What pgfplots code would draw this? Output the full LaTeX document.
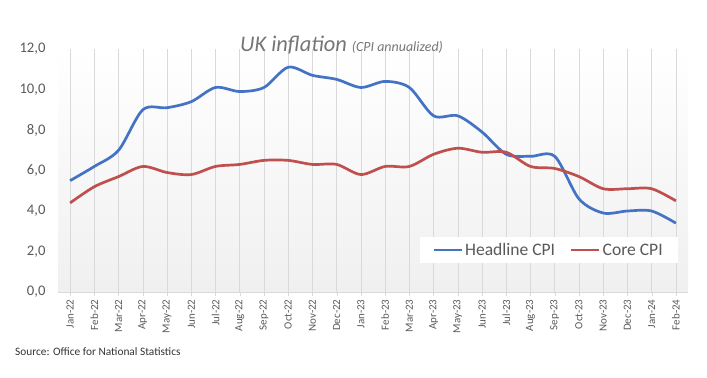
\documentclass[border=0pt]{standalone}
\usepackage{pgfplots}
\pgfplotsset{compat=1.18}
\usepackage{fontspec}
\setmainfont{Carlito}
\definecolor{hblue}{HTML}{4472C4}
\definecolor{cred}{HTML}{C0504D}
\definecolor{txt}{HTML}{595959}
\definecolor{ttl}{HTML}{767676}
\definecolor{grd}{HTML}{D9D9D9}
\begin{document}
\begin{tikzpicture}
\path[use as bounding box] (0,0) rectangle (707bp,-378bp);
\begin{axis}[
  at={(58bp,-292bp)}, anchor=south west,
  scale only axis, width=630bp, height=243bp,
  xmin=-0.5, xmax=25.5, ymin=0, ymax=12,
  axis background/.style={shade, top color=white, bottom color=black!6},
  xtick={0,...,25},
  xticklabels={Jan-22,Feb-22,Mar-22,Apr-22,May-22,Jun-22,Jul-22,Aug-22,Sep-22,Oct-22,Nov-22,Dec-22,Jan-23,Feb-23,Mar-23,Apr-23,May-23,Jun-23,Jul-23,Aug-23,Sep-23,Oct-23,Nov-23,Dec-23,Jan-24,Feb-24},
  xticklabel style={rotate=90, anchor=east, font=\fontsize{11}{12}\selectfont, text=txt},
  ytick={0,2,...,12},
  yticklabel style={font=\fontsize{14.7}{15}\selectfont, text=txt, xshift=-5bp},
  /pgf/number format/.cd, fixed, fixed zerofill, precision=1, use comma, assume math mode=true,
  /pgfplots/.cd,
  axis x line*=bottom, axis y line*=left,
  x axis line style={draw=grd, -},
  y axis line style={draw=none},
  ytick style={draw=none},
  xtick style={draw=grd},
  tick align=outside, major tick length=4bp,
  xmajorgrids, major grid style={draw=grd, line width=0.6pt},
  legend columns=2,
  legend style={at={(0.984,0.119)}, anchor=south east, draw=none, fill=white,
    font=\fontsize{17.6}{18}\selectfont, text=txt, inner xsep=13bp, inner ysep=4bp,
    /tikz/every even column/.append style={column sep=13bp}},
  legend image code/.code={\draw[#1, line width=2.6bp] (-4bp,0bp) -- (24bp,0bp);},
  clip=false,
]
\addplot[hblue, line width=2.7bp, smooth, tension=0.5] coordinates {
(0,5.5)(1,6.2)(2,7.0)(3,9.0)(4,9.1)(5,9.4)(6,10.1)(7,9.9)(8,10.1)(9,11.1)(10,10.7)(11,10.5)(12,10.1)(13,10.4)(14,10.1)(15,8.7)(16,8.7)(17,7.9)(18,6.8)(19,6.7)(20,6.7)(21,4.6)(22,3.9)(23,4.0)(24,4.0)(25,3.4)};
\addlegendentry{Headline CPI}
\addplot[cred, line width=2.7bp, smooth, tension=0.5] coordinates {
(0,4.4)(1,5.2)(2,5.7)(3,6.2)(4,5.9)(5,5.8)(6,6.2)(7,6.3)(8,6.5)(9,6.5)(10,6.3)(11,6.3)(12,5.8)(13,6.2)(14,6.2)(15,6.8)(16,7.1)(17,6.9)(18,6.9)(19,6.2)(20,6.1)(21,5.7)(22,5.1)(23,5.1)(24,5.1)(25,4.5)};
\addlegendentry{Core CPI}
\end{axis}
\node[anchor=base west, text=ttl, inner sep=0pt] at (240bp,-51bp) {\fontsize{22.5}{23}\selectfont\itshape UK inflation \fontsize{14}{15}\selectfont(CPI annualized)};
\node[anchor=base west, text=black!80, inner sep=0pt] at (15bp,-355bp) {\fontsize{11.4}{12}\selectfont Source: Office for National Statistics};
\end{tikzpicture}
\end{document}
